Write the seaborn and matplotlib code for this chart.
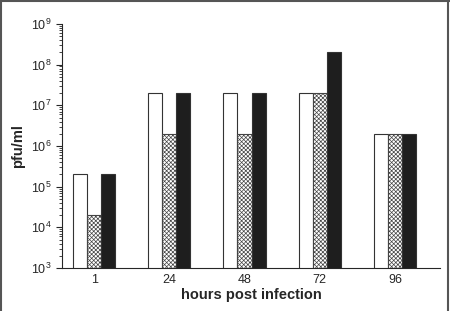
import pandas as pd
import matplotlib
matplotlib.use("Agg")
import matplotlib.pyplot as plt
import matplotlib.ticker as mticker
import seaborn as sns

# === DATA ===
hours = ["1", "24", "48", "72", "96"]
series = ["open", "hatched", "filled"]
open_vals = [2e5, 2e7, 2e7, 2e7, 2e6]
hatched_vals = [2e4, 2e6, 2e6, 2e7, 2e6]
filled_vals = [2e5, 2e7, 2e7, 2e8, 2e6]
y_ticks = [1e3, 1e4, 1e5, 1e6, 1e7, 1e8, 1e9]

df = pd.DataFrame({
    "hours": hours * 3,
    "series": [s for s in series for _ in hours],
    "pfu": open_vals + hatched_vals + filled_vals,
})

# === PLOT ===
sns.set_style("ticks")
plt.rcParams["font.family"] = ["Liberation Sans", "DejaVu Sans"]
plt.rcParams["hatch.linewidth"] = 0.5

fig = plt.figure(figsize=(4.5, 3.11), dpi=100)
ax = fig.add_axes([0.138, 0.138, 0.84, 0.785])

sns.barplot(
    data=df, x="hours", y="pfu", hue="series", order=hours,
    palette=["white", "white", "#1e1e1e"], width=0.56, gap=0,
    edgecolor="#333333", linewidth=0.8, legend=False, ax=ax,
)
for bar in ax.containers[1]:
    bar.set_hatch("xxxxxxxx")
    bar.set_edgecolor("#444444")

ax.set_yscale("log")
ax.set_yticks(y_ticks)
ax.set_ylim(1e3, 1e9)
ax.set_xlim(-0.425, 4.6)
ax.yaxis.set_minor_formatter(mticker.NullFormatter())
ax.tick_params(axis="x", length=0, labelsize=9, pad=4)
ax.tick_params(axis="y", which="major", length=4, labelsize=9)
ax.tick_params(axis="y", which="minor", length=2)
ax.set_xlabel("hours post infection", fontsize=10.5, fontweight="bold", labelpad=2)
ax.set_ylabel("pfu/ml", fontsize=10.5, fontweight="bold", labelpad=4)
sns.despine(ax=ax)

# frame around the figure (top, left, right)
for xs, ys in [([0, 1], [0.998, 0.998]), ([0.002, 0.002], [0, 1]), ([0.996, 0.996], [0, 1])]:
    fig.add_artist(plt.Line2D(xs, ys, transform=fig.transFigure, color="#555555", lw=1.5))

fig.savefig("out.png", dpi=100)
